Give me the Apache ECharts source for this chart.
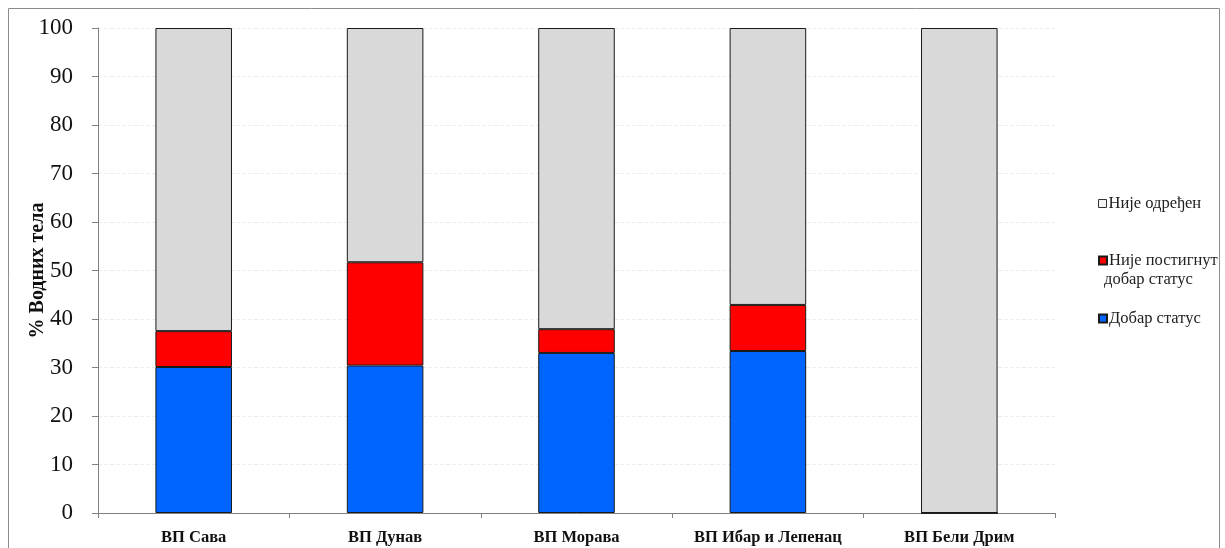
<!DOCTYPE html>
<html>
<head>
<meta charset="utf-8">
<script src="https://cdn.jsdelivr.net/npm/echarts@6/dist/echarts.min.js"></script>
<style>
  html, body { margin: 0; padding: 0; background: #fff; }
  #chart { width: 1225px; height: 548px; }
</style>
</head>
<body>
<div id="chart"></div>
<script>
// River basin areas (водна подручја)
const categories = ['ВП Сава', 'ВП Дунав', 'ВП Морава', 'ВП Ибар и Лепенац', 'ВП Бели Дрим'];

// Share of water bodies (%) by status, stacked
const goodStatus    = [30.1, 30.4, 33.0, 33.4, 0];
const notGoodStatus = [7.4, 21.3, 4.9, 9.5, 0];
const undetermined  = [62.5, 48.3, 62.1, 57.1, 100];

const yTicks = { min: 0, max: 100, interval: 10 };

const serif = '"Liberation Serif", "DejaVu Serif", serif';
const legendFont = { fontFamily: serif, fontSize: 16.5, color: '#222', padding: [0, 0, 0, -3] };

const chart = echarts.init(document.getElementById('chart'));

const barBorder = { borderColor: '#1a1a1a', borderWidth: 1 };

function legendAt(name, top, extra) {
  return Object.assign({
    orient: 'vertical',
    left: 1093,
    top: top,
    data: [name],
    icon: 'rect',
    itemWidth: 8,
    itemHeight: 8,
    itemGap: 0,
    selectedMode: false,
    textStyle: legendFont
  }, extra || {});
}

chart.setOption({
  animation: false,
  backgroundColor: '#fff',
  graphic: [
    {
      type: 'rect',
      shape: { x: 8.5, y: 8.5, width: 1211, height: 545 },
      style: { fill: 'none', stroke: '#8c8c8c', lineWidth: 1 },
      silent: true
    },
    {
      // second line of the "not good status" legend label
      type: 'text',
      left: 1104,
      top: 271,
      style: { text: 'добар статус', font: '16.5px ' + serif, fill: '#222' },
      silent: true
    }
  ],
  grid: { left: 98, right: 170, top: 28, bottom: 35 },
  legend: [
    legendAt('Није одређен', 190, {
      data: [{ name: 'Није одређен', itemStyle: { color: '#f4f4f4', borderColor: '#333', borderWidth: 1 } }]
    }),
    legendAt('Није постигнут добар статус', 247, {
      formatter: () => 'Није постигнут'
    }),
    legendAt('Добар статус', 305)
  ],
  xAxis: {
    type: 'category',
    data: categories,
    axisLine: { lineStyle: { color: '#808080', width: 1 } },
    axisTick: { show: true, length: 5, lineStyle: { color: '#808080' } },
    axisLabel: {
      fontFamily: serif, fontSize: 16.5, fontWeight: 'bold', color: '#111',
      margin: 16, interval: 0
    }
  },
  yAxis: {
    type: 'value',
    min: yTicks.min, max: yTicks.max, interval: yTicks.interval,
    name: '% Водних тела',
    nameLocation: 'middle',
    nameGap: 50,
    nameMoveOverlap: false,
    nameRotate: 90,
    nameTextStyle: { fontFamily: serif, fontSize: 20, fontWeight: 'bold', color: '#111' },
    axisLine: { show: true, lineStyle: { color: '#808080', width: 1 } },
    axisTick: { show: true, length: 6, lineStyle: { color: '#808080' } },
    axisLabel: { fontFamily: serif, fontSize: 23, color: '#111', margin: 25 },
    splitLine: { show: true, lineStyle: { color: '#eeeeee', type: 'dashed' } }
  },
  series: [
    {
      name: 'Добар статус', type: 'bar', stack: 'total', data: goodStatus,
      barWidth: '40%',
      itemStyle: Object.assign({ color: '#0064ff' }, barBorder)
    },
    {
      name: 'Није постигнут добар статус', type: 'bar', stack: 'total', data: notGoodStatus,
      barWidth: '40%',
      itemStyle: Object.assign({ color: '#ff0000' }, barBorder)
    },
    {
      name: 'Није одређен', type: 'bar', stack: 'total', data: undetermined,
      barWidth: '40%',
      itemStyle: Object.assign({ color: '#d9d9d9' }, barBorder)
    }
  ]
});
</script>
</body>
</html>
